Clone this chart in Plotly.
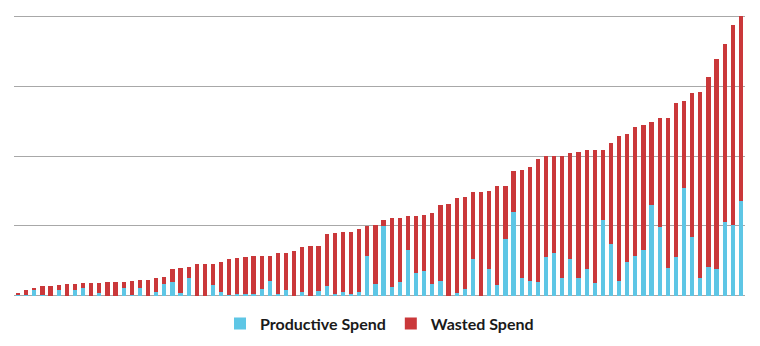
import plotly.graph_objects as go

categories = [str(i) for i in range(1, 91)]

productive = [
    0.02, 0.01, 0.08, 0.02, 0.00, 0.08, 0.00, 0.08, 0.11, 0.00,
    0.04, 0.00, 0.00, 0.12, 0.01, 0.11, 0.00, 0.06, 0.17, 0.20,
    0.04, 0.26, 0.00, 0.00, 0.15, 0.06, 0.02, 0.03, 0.03, 0.03,
    0.10, 0.22, 0.03, 0.08, 0.00, 0.06, 0.00, 0.07, 0.14, 0.03,
    0.05, 0.03, 0.06, 0.57, 0.17, 1.00, 0.13, 0.20, 0.65, 0.33,
    0.36, 0.17, 0.22, 0.00, 0.04, 0.10, 0.53, 0.00, 0.39, 0.15,
    0.81, 1.20, 0.25, 0.22, 0.20, 0.55, 0.62, 0.25, 0.53, 0.26,
    0.39, 0.19, 1.08, 0.74, 0.21, 0.49, 0.57, 0.65, 1.30, 0.99,
    0.40, 0.56, 1.54, 0.84, 0.26, 0.41, 0.38, 1.06, 1.01, 1.35,
]

wasted = [
    0.02, 0.08, 0.04, 0.12, 0.14, 0.07, 0.17, 0.09, 0.08, 0.19,
    0.15, 0.20, 0.20, 0.08, 0.21, 0.12, 0.23, 0.19, 0.10, 0.18,
    0.36, 0.15, 0.45, 0.46, 0.31, 0.42, 0.51, 0.51, 0.52, 0.54,
    0.47, 0.35, 0.58, 0.54, 0.64, 0.64, 0.71, 0.65, 0.74, 0.87,
    0.87, 0.89, 0.89, 0.43, 0.85, 0.08, 0.99, 0.92, 0.49, 0.81,
    0.79, 1.01, 1.08, 1.32, 1.36, 1.31, 0.95, 1.48, 1.11, 1.42,
    0.76, 0.58, 1.55, 1.62, 1.76, 1.45, 1.38, 1.75, 1.52, 1.80,
    1.70, 1.90, 1.01, 1.45, 2.08, 1.82, 1.85, 1.80, 1.19, 1.55,
    2.15, 2.20, 1.24, 2.06, 2.66, 2.72, 3.00, 2.54, 2.86, 2.65,
]

CYAN = "#5ec6e5"
RED = "#ca383a"

fig = go.Figure()
fig.add_trace(go.Bar(x=categories, y=productive, name="Productive Spend",
                     marker=dict(color=CYAN, line=dict(width=0))))
fig.add_trace(go.Bar(x=categories, y=wasted, name="Wasted Spend",
                     marker=dict(color=RED, line=dict(width=0))))

fig.update_layout(
    barmode="stack",
    bargap=0.48,
    width=760, height=346,
    margin=dict(l=14, r=15, t=14, b=48, autoexpand=False),
    paper_bgcolor="white",
    plot_bgcolor="white",
    showlegend=True,
    legend=dict(orientation="h", x=0.5, xanchor="center", y=-0.09, yanchor="middle",
                traceorder="normal",
                font=dict(family="Lato", size=16, color="#1a1a1a", weight="bold"),
                itemclick=False),
    xaxis=dict(showticklabels=False, showgrid=False, zeroline=False, showline=False, ticks=""),
    yaxis=dict(range=[-0.03, 4.03], dtick=1, showticklabels=False, showgrid=True,
               gridcolor="#a8a8a8", gridwidth=1, zeroline=False, showline=False, ticks=""),
)

fig.write_html("out.html")
